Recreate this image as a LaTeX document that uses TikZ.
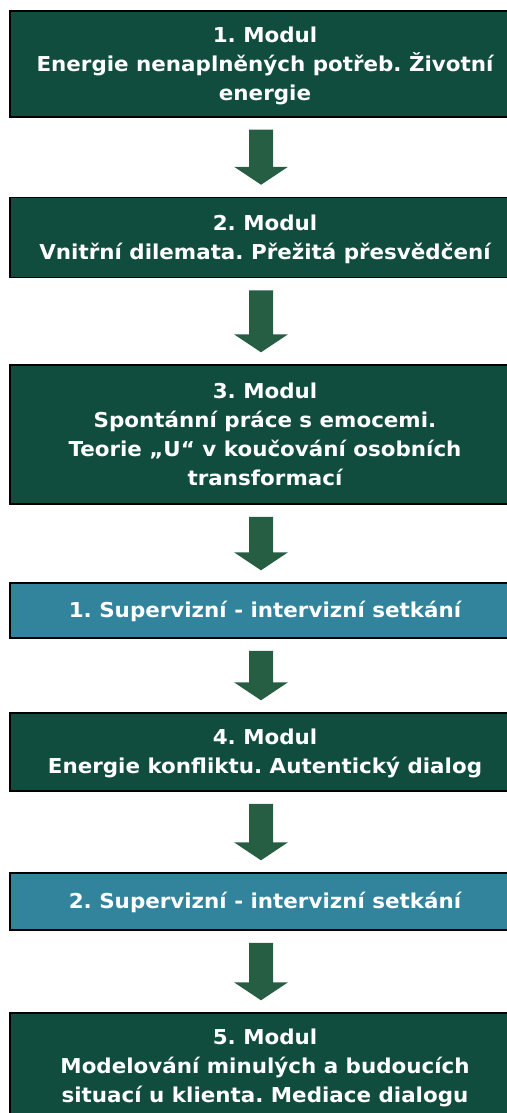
\documentclass[tikz,border=0pt]{standalone}
\usepackage{fontspec}
\setmainfont{DejaVu Sans}[FakeStretch=1.045]
\usetikzlibrary{calc}
\definecolor{modgreen}{HTML}{114D3E}
\definecolor{arrgreen}{HTML}{265E44}
\definecolor{supblue}{HTML}{31849B}
\tikzset{
  box/.style={draw=black, line width=1.5pt, rectangle, inner sep=0pt,
    minimum width=510pt, text=white, align=center,
    font=\fontsize{20.5}{29}\selectfont\bfseries\frenchspacing},
  modbox/.style={box, fill=modgreen},
  supbox/.style={box, fill=supblue},
  fatarrow/.style={fill=arrgreen}
}
% text block whose box runs from the cap top of the first line to the baseline of the last
\newcommand\boxtext[2]{\raisebox{0pt}[\fontcharht\font`H][#1\baselineskip]{\parbox[t]{500pt}{\centering #2}}}
\newcommand\fatarrow[2]{%
  \fill[fatarrow] let \p1=($(#1.south)+(-4,12)$), \p2=($(#2.north)+(-4,-12)$) in
    (\x1-12pt,\y1) -- (\x1+12pt,\y1) -- (\x1+12pt,\y2+18pt) -- (\x1+27pt,\y2+18pt)
    -- (\x1,\y2) -- (\x1-27pt,\y2+18pt) -- (\x1-12pt,\y2+18pt) -- cycle;}
\begin{document}
\begin{tikzpicture}[x=1pt,y=-1pt]
\useasboundingbox (0,0) rectangle (506,1113);
\node[modbox, minimum height=106pt] (b1) at (265,64) {\boxtext{2}{1. Modul\\Energie nenaplněných potřeb. Životní\\energie}};
\node[modbox, minimum height=80pt] (b2) at (265,237.5) {\boxtext{1}{2. Modul\\Vnitřní dilemata. Přežitá přesvědčení}};
\node[modbox, minimum height=139pt] (b3) at (265,434.5) {\boxtext{3}{3. Modul\\Spontánní práce s emocemi.\\Teorie „U“ v koučování osobních\\transformací}};
\node[supbox, minimum height=55pt] (s1) at (265,610.5) {\boxtext{0}{1. Supervizní - intervizní setkání}};
\node[modbox, minimum height=78pt] (b4) at (265,752) {\boxtext{1}{4. Modul\\Energie konfliktu. Autentický dialog}};
\node[supbox, minimum height=57pt] (s2) at (265,901.5) {\boxtext{0}{2. Supervizní - intervizní setkání}};
\node[modbox, minimum height=106pt] (b5) at (265,1066) {\boxtext{2}{5. Modul\\Modelování minulých a budoucích\\situací u klienta. Mediace dialogu}};
\fatarrow{b1}{b2}
\fatarrow{b2}{b3}
\fatarrow{b3}{s1}
\fatarrow{s1}{b4}
\fatarrow{b4}{s2}
\fatarrow{s2}{b5}
\end{tikzpicture}
\end{document}
